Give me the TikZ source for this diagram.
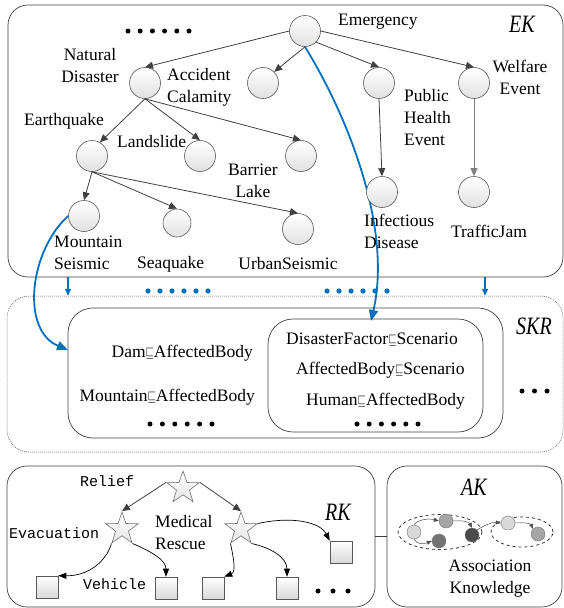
\documentclass[tikz,border=0pt]{standalone}
\usepackage{fontspec}
\setmainfont{Liberation Serif}
\setmonofont{Liberation Mono}
\newfontfamily\tagfont[FakeStretch=0.8]{Liberation Serif}
\usetikzlibrary{arrows.meta,shapes.geometric,positioning,backgrounds}

\definecolor{kblue}{RGB}{0,112,192}
\newcommand{\isa}{\scalebox{0.62}[0.85]{$\sqsubseteq$}}

\begin{document}
\begin{tikzpicture}[x=1pt, y=-1pt, font=\fontsize{17.5}{22}\selectfont,
  panel/.style={draw=black!75, line width=0.7pt, rounded corners=20pt, inner sep=0pt},
  kn/.style={circle, draw=black!65, line width=0.6pt, minimum size=31pt, inner sep=0pt, top color=white, bottom color=black!12},
  sq/.style={rectangle, draw=black!65, line width=0.6pt, minimum size=22pt, inner sep=0pt, top color=white, bottom color=black!15},
  st/.style={star, star points=5, star point ratio=2.5, draw=black!55, line width=0.6pt, minimum size=34pt, inner sep=0pt, top color=white, bottom color=black!10},
  pt/.style={circle, draw=black!55, line width=0.4pt, minimum size=14pt, inner sep=0pt},
  grp/.style={ellipse, draw=black!80, dashed, line width=0.8pt, inner sep=0pt},
  txt/.style={inner sep=0pt},
  mono/.style={inner sep=0pt, font=\fontsize{15}{18}\selectfont\ttfamily},
  tag/.style={inner sep=0pt, font=\fontsize{25}{25}\tagfont\itshape},
  tree/.style={draw=black!75, line width=0.8pt, -{Triangle[length=8pt,width=7pt]}},
  rel/.style={draw=black, line width=0.7pt, -{Triangle[length=8pt,width=6pt]}},
  assoc/.style={draw=black!70, line width=0.5pt, -{Triangle[length=5pt,width=4pt]}},
  bluecurve/.style={draw=kblue, line width=1.8pt, -{Triangle[length=11pt,width=9pt]}},
  bluestub/.style={draw=kblue, line width=1.3pt, -{Triangle[length=7pt,width=6pt]}}]

\useasboundingbox (0,0) rectangle (564,608);

% panels
\node[panel, minimum width=555pt, minimum height=272pt] (ekbox) at (285.5,141) {};
\node[panel, draw=black!70, line width=0.5pt, dash pattern=on 1pt off 1pt, rounded corners=22pt, minimum width=556pt, minimum height=156pt] (skrbox) at (285,374) {};
\node[panel, rounded corners=25pt, minimum width=435pt, minimum height=130pt] (leftset) at (285.5,373) {};
\node[panel, rounded corners=25pt, minimum width=215pt, minimum height=113pt] (rightset) at (375.5,375.5) {};
\node[panel, minimum width=368pt, minimum height=141pt] (rkbox) at (191,536.5) {};
\node[panel, minimum width=175pt, minimum height=141pt] (akbox) at (474.5,536.5) {};

% EK tree
\node[kn] (em) at (305,31) {};
\node[kn] (nd) at (145,83) {};
\node[kn] (ac) at (263,83) {};
\node[kn] (ph) at (379,83) {};
\node[kn] (we) at (474,83) {};
\node[kn] (eq) at (92,156) {};
\node[kn] (ls) at (200,156) {};
\node[kn] (bl) at (301,156) {};
\node[kn] (inf) at (382,192) {};
\node[kn] (tj) at (474,192) {};
\node[kn] (ms) at (84,216) {};
\node[kn, minimum size=28pt] (sq) at (177,223) {};
\node[kn] (us) at (298,229) {};

\node[txt, anchor=base west] (emlab) at (338,25) {Emergency};
\node[txt, anchor=base, align=center] (ndlab) at (90,82) {Natural\\Disaster};
\node[txt, anchor=base west, align=left] (aclab) at (167,102) {Accident\\Calamity};
\node[txt, anchor=base west, align=left] (phlab) at (404,145) {Public\\Health\\Event};
\node[txt, anchor=base, align=center] (welab) at (520,94) {Welfare\\Event};
\node[txt, anchor=base west] (eqlab) at (24,125) {Earthquake};
\node[txt, anchor=base west] (lslab) at (117,147) {Landslide};
\node[txt, anchor=base, align=center] (bllab) at (253,197) {Barrier\\Lake};
\node[txt, anchor=base west, align=left] (inflab) at (364,248) {Infectious\\Disease};
\node[txt, anchor=base] (tjlab) at (489,237) {TrafficJam};
\node[txt, anchor=base west, align=left] (mslab) at (54,269) {Mountain\\Seismic};
\node[txt, anchor=base west] (sqlab) at (137,268) {Seaquake};
\node[txt, anchor=base] (uslab) at (288,269) {UrbanSeismic};
\node[tag] (eklab) at (522,24) {EK};

\draw[tree] (em.west) -- (nd.north);
\draw[tree] (em.south) -- (ac.north east);
\draw[tree] (em.south east) -- (ph.north);
\draw[tree] (em.east) -- (we.north);
\draw[tree] (nd.south) -- (eq.60);
\draw[tree] (nd.south) -- (ls.north);
\draw[tree] (nd.south) -- (bl.north);
\draw[tree] (eq.south) -- (ms.north);
\draw[tree] (eq.south) -- (sq.north);
\draw[tree] (eq.south) -- (us.north);
\draw[tree] (ph.south) -- (inf.north);
\draw[tree, draw=black!50] (we.south) -- (tj.north);

\foreach \i in {0,...,5} \fill (128+12.2*\i,31) circle (2.5pt);

% SKR
\node[txt, anchor=base east] (dam) at (253,357) {Dam\isa AffectedBody};
\node[txt, anchor=base east] (mtn) at (255,401) {Mountain\isa AffectedBody};
\node[txt, anchor=base west] (dfs) at (286,344) {DisasterFactor\isa Scenario};
\node[txt, anchor=base west] (abs) at (296,374) {AffectedBody\isa Scenario};
\node[txt, anchor=base west] (hab) at (306,405) {Human\isa AffectedBody};
\node[tag] (skrlab) at (534,326) {SKR};

\foreach \i in {0,...,5} \fill (150+12.4*\i,424) circle (2.5pt);
\foreach \i in {0,...,5} \fill (357+12.2*\i,424) circle (2.5pt);
\foreach \i in {0,...,2} \fill (522+12.5*\i,391) circle (2.5pt);

% links EK -> SKR
\coordinate (c1) at (68,0);
\coordinate (c2) at (485,0);
\coordinate (hit) at (371,321);
\coordinate (mshit) at (68,350);
\draw[bluestub] (ekbox.south -| c1) -- (skrbox.north -| c1);
\draw[bluestub] (ekbox.south -| c2) -- (skrbox.north -| c2);
\foreach \i in {0,...,5} \fill[kblue] (148+12*\i,291) circle (2.6pt);
\foreach \i in {0,...,5} \fill[kblue] (327+12*\i,291) circle (2.6pt);
\begin{scope}[on background layer]
\draw[bluecurve] (em.south) .. controls (350,120) and (392,230) .. (hit);
\end{scope}
\draw[bluecurve] (ms.west) .. controls (30,250) and (20,330) .. (mshit);

% RK
\node[st] (relief) at (183,488) {};
\node[st] (evac) at (122,529) {};
\node[st] (med) at (241,529) {};
\node[sq] (s1) at (47,587) {};
\node[sq] (s2) at (166,588) {};
\node[sq] (s3) at (213,588) {};
\node[sq] (s4) at (287,588) {};
\node[sq] (s5) at (341,552) {};
\node[mono, anchor=base west] (relieflab) at (80,486) {Relief};
\node[mono, anchor=base west] (evaclab) at (9,538) {Evacuation};
\node[txt, anchor=base west, align=left] (medlab) at (155,549) {Medical\\Rescue};
\node[mono, anchor=base west] (vehlab) at (83,589) {Vehicle};
\node[tag] (rklab) at (338,512) {RK};
\foreach \i in {0,...,2} \fill (318+15*\i,591) circle (2.5pt);

\draw[tree] (relief.162) -- (evac.north);
\draw[tree] (relief.18) -- (med.north);
\draw[rel] (evac.234) .. controls (106,562) and (88,576) .. (s1.north east);
\draw[rel] (evac.306) .. controls (152,552) and (166,560) .. (s2.north);
\draw[rel] (med.234) .. controls (234,560) and (236,572) .. (s3.north east);
\draw[rel] (med.306) .. controls (272,548) and (287,558) .. (s4.north);
\draw[rel] (med.18) .. controls (292,516) and (320,522) .. (s5.north west);

% AK
\draw[draw=black!75, line width=0.7pt] (rkbox.east) -- (akbox.west);
\node[tag] (aklab) at (474,487) {AK};
\node[grp, minimum width=84pt, minimum height=35pt] (g1) at (440,532) {};
\node[grp, minimum width=62pt, minimum height=30pt] (g2) at (522,532) {};
\node[pt, fill=black!15] (a) at (414,532) {};
\node[pt, fill=black!35] (b) at (446,521) {};
\node[pt, fill=black!55] (c) at (439,541) {};
\node[pt, fill=black!70] (d) at (472,535) {};
\node[pt, fill=black!15] (e) at (508,523) {};
\node[pt, fill=black!35] (f) at (538,534) {};
\draw[assoc] (a.north) .. controls (417,520) and (428,518) .. (b.west);
\draw[assoc] (a.south) .. controls (417,545) and (424,544) .. (c.west);
\draw[assoc] (b.east) .. controls (462,520) and (469,522) .. (d.north);
\draw[assoc] (d.north east) .. controls (485,525) and (492,522) .. (e.west);
\draw[assoc] (e.east) .. controls (526,522) and (531,524) .. (f.north west);
\node[txt, anchor=base, align=center] (assoclab) at (490,593) {Association\\Knowledge};

\end{tikzpicture}
\end{document}
